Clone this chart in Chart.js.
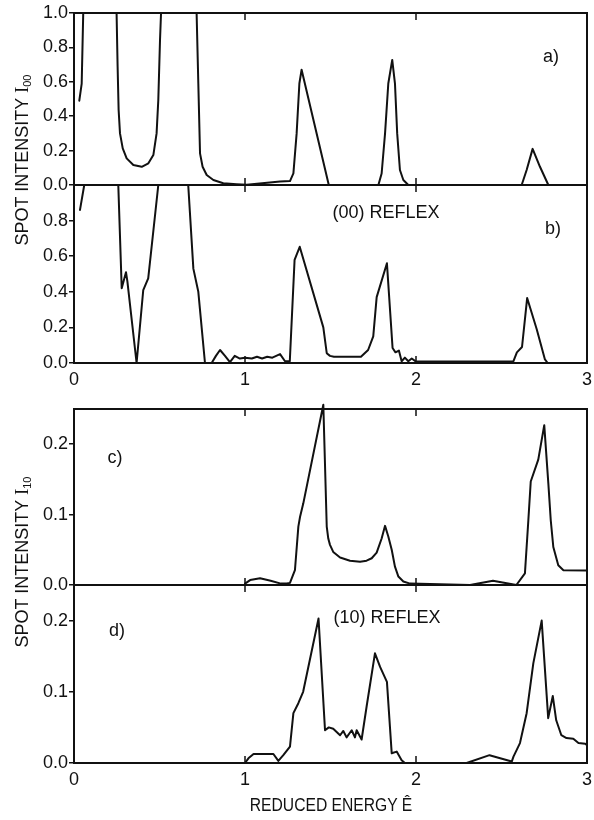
<!DOCTYPE html>
<html lang="en">
<head>
    <meta charset="UTF-8">
    <title>Spot intensity vs reduced energy</title>
    <script src="https://cdn.jsdelivr.net/npm/chart.js@4.4.1/dist/chart.umd.min.js"></script>
    <style>
        body {
            margin: 0;
            background: #fff;
            font-family: 'Liberation Sans', Arial, sans-serif;
            color: #111;
        }
        #wrap {
            position: relative;
            width: 594px;
            height: 820px;
            overflow: hidden;
        }
        #wrap canvas {
            position: absolute;
            left: 0;
            top: 0;
        }
        .lbl {
            position: absolute;
            transform: translate(-50%, -50%);
            white-space: nowrap;
            line-height: 1;
            font-size: 18px;
        }
        .xtitle {
            position: absolute;
            transform: translate(-50%, -50%) scaleX(0.87);
            white-space: nowrap;
            line-height: 1;
            font-size: 18px;
        }
        .ytitle {
            position: absolute;
            transform: translate(-50%, -50%) rotate(-90deg);
            white-space: nowrap;
            line-height: 1;
            font-size: 18px;
        }
        .ytitle .sym { font-family: 'Liberation Serif', serif; font-size: 19px; }
        .ytitle sub { font-size: 11px; vertical-align: -3px; }
    </style>
</head>
<body>
<div id="wrap">
    <canvas id="cA" width="620" height="820"></canvas>
    <canvas id="cB" width="620" height="820"></canvas>
    <canvas id="cC" width="620" height="820"></canvas>
    <canvas id="cD" width="620" height="820"></canvas>

    <div class="lbl" style="left:551px; top:56px;">a)</div>
    <div class="lbl" style="left:386px; top:212px;">(00) REFLEX</div>
    <div class="lbl" style="left:553px; top:228px;">b)</div>
    <div class="lbl" style="left:115px; top:457px;">c)</div>
    <div class="lbl" style="left:117px; top:630px;">d)</div>
    <div class="lbl" style="left:387px; top:617px;">(10) REFLEX</div>
    <div class="ytitle" style="left:22px; top:160px;">SPOT INTENSITY <span class="sym">I</span><sub>00</sub></div>
    <div class="ytitle" style="left:22px; top:562px;">SPOT INTENSITY <span class="sym">I</span><sub>10</sub></div>
    <div class="xtitle" style="left:331px; top:805px;">REDUCED ENERGY Ê</div>
</div>

<script>
    // panel a) (00) reflex, upper curve
    const aE = [0.031, 0.045, 0.054, 0.249, 0.255, 0.261, 0.269, 0.285, 0.308, 0.347, 0.396, 0.435, 0.464, 0.483,
        0.493, 0.503, 0.509, 0.717, 0.727, 0.737, 0.752, 0.776, 0.815, 0.873, 0.951, 1.01, 1.205, 1.263, 1.283,
        1.302, 1.318, 1.331, 1.49, 1.78, 1.799, 1.819, 1.838, 1.861, 1.877, 1.89, 1.906, 1.926, 1.955,
        2.618, 2.647, 2.682, 2.725, 2.774, 3.0];
    const aI = [0.49, 0.59, 1.0, 1.0, 0.69, 0.436, 0.30, 0.213, 0.155, 0.116, 0.106, 0.126, 0.174, 0.30,
        0.494, 0.843, 1.0, 1.0, 0.59, 0.184, 0.106, 0.058, 0.029, 0.01, 0.005, 0.002, 0.02, 0.023, 0.068,
        0.30, 0.59, 0.67, 0.0, 0.0, 0.067, 0.30, 0.59, 0.727, 0.59, 0.30, 0.087, 0.029, 0.0,
        0.0, 0.087, 0.21, 0.106, 0.0, 0.0];

    // panel b) (00) reflex, lower curve
    const bE = [0.035, 0.06, 0.259, 0.279, 0.304, 0.312, 0.366, 0.405, 0.434, 0.493, 0.668, 0.698, 0.727, 0.766,
        0.805, 0.83, 0.854, 0.883, 0.912, 0.94, 0.97, 1.0, 1.04, 1.07, 1.1, 1.13, 1.16, 1.205, 1.234, 1.262,
        1.29, 1.32, 1.458, 1.478, 1.497, 1.52, 1.678, 1.72, 1.75, 1.77, 1.83, 1.863, 1.88, 1.9, 1.916, 1.935,
        1.955, 1.975, 2.0, 2.57, 2.59, 2.62, 2.65, 2.706, 2.754, 2.77, 3.0];
    const bI = [0.86, 1.0, 1.0, 0.42, 0.51, 0.46, 0.0, 0.41, 0.476, 1.0, 1.0, 0.53, 0.40, 0.0,
        0.0, 0.04, 0.073, 0.04, 0.005, 0.04, 0.025, 0.03, 0.025, 0.035, 0.025, 0.035, 0.03, 0.05, 0.01, 0.01,
        0.58, 0.653, 0.20, 0.055, 0.04, 0.035, 0.035, 0.073, 0.15, 0.37, 0.56, 0.084, 0.06, 0.07, 0.01, 0.03,
        0.01, 0.025, 0.008, 0.01, 0.06, 0.09, 0.365, 0.19, 0.02, 0.0, 0.0];

    // panel c) (10) reflex, upper curve
    const cE = [1.0, 1.03, 1.088, 1.15, 1.21, 1.244, 1.263, 1.292, 1.312, 1.322, 1.341, 1.458, 1.478,
        1.487, 1.497, 1.516, 1.556, 1.614, 1.673, 1.711, 1.741, 1.77, 1.799, 1.819, 1.838, 1.858, 1.877,
        1.897, 1.926, 1.965, 2.316, 2.45, 2.587, 2.637, 2.657, 2.671, 2.715, 2.75, 2.774, 2.788, 2.803,
        2.832, 2.862, 3.0];
    const cI = [0.002, 0.007, 0.0095, 0.006, 0.002, 0.002, 0.003, 0.021, 0.083, 0.097, 0.116, 0.256, 0.083,
        0.066, 0.057, 0.047, 0.039, 0.0345, 0.033, 0.0345, 0.038, 0.046, 0.066, 0.084, 0.069, 0.05, 0.026,
        0.012, 0.005, 0.002, 0.0, 0.006, 0.0, 0.0166, 0.092, 0.147, 0.178, 0.227, 0.144, 0.092, 0.054,
        0.028, 0.021, 0.0205];

    // panel d) (10) reflex, lower curve
    const dE = [1.0, 1.02, 1.05, 1.166, 1.195, 1.224, 1.263, 1.283, 1.312, 1.34, 1.43, 1.468, 1.49, 1.516,
        1.556, 1.575, 1.594, 1.624, 1.643, 1.653, 1.682, 1.711, 1.76, 1.79, 1.83, 1.858, 1.887, 1.916, 1.935,
        2.296, 2.43, 2.56, 2.57, 2.608, 2.647, 2.686, 2.735, 2.773, 2.80, 2.82, 2.85, 2.88, 2.92, 2.95, 2.99, 3.0];
    const dI = [0.0, 0.0066, 0.0126, 0.0126, 0.003, 0.011, 0.023, 0.07, 0.084, 0.10, 0.203, 0.046, 0.05, 0.048,
        0.039, 0.045, 0.036, 0.046, 0.036, 0.046, 0.033, 0.079, 0.154, 0.135, 0.114, 0.0136, 0.016, 0.004, 0.0,
        0.0, 0.011, 0.002, 0.009, 0.028, 0.07, 0.14, 0.20, 0.063, 0.094, 0.06, 0.039, 0.035, 0.034, 0.028, 0.027, 0.025];

    // ticks
    const xTicks = [0, 1, 2, 3];
    const xLabels = ['0', '1', '2', '3'];
    const xInner = [1, 2];
    const yTicksA = [0, 0.2, 0.4, 0.6, 0.8, 1.0];
    const yTicksB = [0, 0.2, 0.4, 0.6, 0.8];
    const yTicksCD = [0, 0.1, 0.2];

    const FONT = "'Liberation Sans', Arial, sans-serif";
    const INK = '#111';

    // box round the plot area + small inward ticks on top and bottom
    const frame = {
        id: 'frame',
        afterDatasetsDraw(chart) {
            const ctx = chart.ctx;
            const a = chart.chartArea;
            const x = chart.scales.x;
            ctx.save();
            ctx.strokeStyle = INK;
            ctx.lineWidth = 2;
            ctx.strokeRect(a.left, a.top, a.right - a.left, a.bottom - a.top);
            ctx.lineWidth = 1.5;
            xInner.forEach(v => {
                const px = x.getPixelForValue(v);
                ctx.beginPath();
                ctx.moveTo(px, a.top);
                ctx.lineTo(px, a.top + 7);
                ctx.moveTo(px, a.bottom);
                ctx.lineTo(px, a.bottom - 7);
                ctx.stroke();
            });
            ctx.restore();
        }
    };

    function makePanel(id, E, I, opt) {
        const pts = E.map((e, i) => ({ x: e, y: I[i] }));
        return new Chart(document.getElementById(id), {
            type: 'line',
            data: {
                datasets: [{
                    data: pts,
                    borderColor: INK,
                    borderWidth: 2,
                    borderJoinStyle: 'round',
                    borderCapStyle: 'round',
                    pointRadius: 0,
                    fill: false,
                    tension: 0,
                    clip: false
                }]
            },
            options: {
                responsive: false,
                animation: false,
                events: [],
                layout: { padding: { top: opt.top, bottom: opt.bottom, left: 0, right: 33 } },
                plugins: { legend: { display: false }, tooltip: { enabled: false } },
                scales: {
                    x: {
                        type: 'linear',
                        min: 0,
                        max: 3,
                        display: opt.xAxis,
                        afterBuildTicks: s => { s.ticks = xTicks.map(v => ({ value: v })); },
                        afterFit: s => { s.height = opt.xHeight; },
                        grid: { display: false, drawTicks: false },
                        border: { display: false },
                        ticks: {
                            autoSkip: false,
                            maxRotation: 0,
                            padding: 6,
                            color: INK,
                            font: { family: FONT, size: 18 },
                            callback: v => xLabels[xTicks.indexOf(v)]
                        }
                    },
                    y: {
                        min: 0,
                        max: opt.ymax,
                        afterBuildTicks: s => { s.ticks = opt.yTicks.map(v => ({ value: v })); },
                        afterFit: s => { s.width = 74; },
                        grid: { drawOnChartArea: false, drawTicks: true, tickLength: 5, color: INK, lineWidth: 1.5 },
                        border: { display: false },
                        ticks: {
                            padding: 1,
                            color: INK,
                            font: { family: FONT, size: 18 },
                            callback: v => v.toFixed(1)
                        }
                    }
                }
            },
            plugins: [frame]
        });
    }

    makePanel('cA', aE, aI, { top: 13, bottom: 635, ymax: 1.0, yTicks: yTicksA, xAxis: false, xHeight: 0 });
    makePanel('cB', bE, bI, { top: 185, bottom: 417, ymax: 1.0, yTicks: yTicksB, xAxis: true, xHeight: 40 });
    makePanel('cC', cE, cI, { top: 409, bottom: 235, ymax: 0.25, yTicks: yTicksCD, xAxis: false, xHeight: 0 });
    makePanel('cD', dE, dI, { top: 585, bottom: 0, ymax: 0.25, yTicks: yTicksCD, xAxis: true, xHeight: 57 });
</script>
</body>
</html>
